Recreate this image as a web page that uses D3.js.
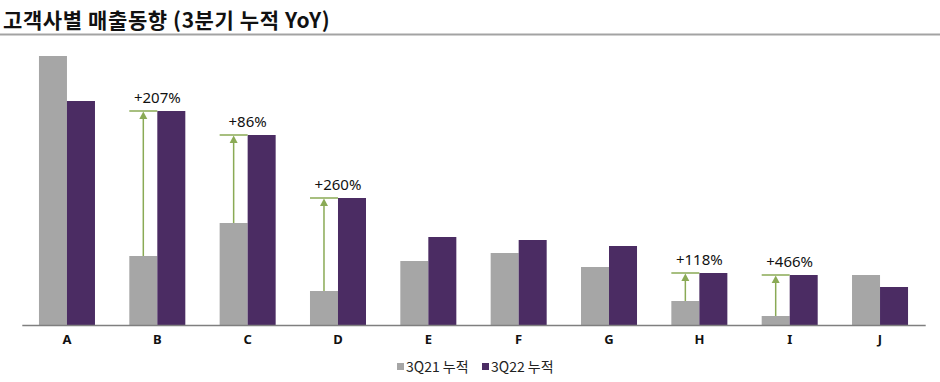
<!DOCTYPE html>
<html><head><meta charset="utf-8">
<script src="https://cdn.jsdelivr.net/npm/d3@7"></script>
<style>
html,body{margin:0;padding:0;background:#fff;}
svg{display:block;font-family:"Noto Sans CJK KR","Noto Sans",sans-serif;}
</style></head>
<body><svg id="c" width="940" height="382"></svg>
<script>
const categories = ["A","B","C","D","E","F","G","H","I","J"];
const q21 = [269, 69, 102, 34, 64, 72, 58, 24, 9, 50];
const q22 = [224, 214, 190, 127, 88, 85, 79, 52, 50, 38];
const annotations = [
  {cat:"B", label:"+207%"},
  {cat:"C", label:"+86%"},
  {cat:"D", label:"+260%"},
  {cat:"H", label:"+118%"},
  {cat:"I", label:"+466%"}
];
const seriesNames = ["3Q21 누적","3Q22 누적"];
const colors = ["#a6a6a6","#4b2c63"];
const green = "#8aaa55";

const svg = d3.select("#c");
const x = d3.scaleBand().domain(categories).range([21.8, 925.2]).paddingInner(0.38).paddingOuter(0.19);
const x1 = d3.scaleBand().domain([0,1]).range([0, x.bandwidth()]);
const y = d3.scaleLinear().domain([0, 285]).range([325, 40]);

// title
svg.append("text").attr("x",3).attr("y",28).attr("font-size",21).attr("font-weight",700)
  .attr("letter-spacing",0.6).attr("fill","#111").text("고객사별 매출동향 (3분기 누적 YoY)");
svg.append("line").attr("x1",0).attr("x2",940).attr("y1",34.5).attr("y2",34.5)
  .attr("stroke","#a3a3a3").attr("stroke-width",2);

const data = categories.map((c,i)=>({cat:c, vals:[q21[i], q22[i]]}));
const g = svg.append("g");
g.selectAll("g.grp").data(data).join("g").attr("class","grp")
  .attr("transform", d=>`translate(${x(d.cat)},0)`)
  .selectAll("rect").data(d=>d.vals.map((v,k)=>({v,k}))).join("rect")
  .attr("x", d=>x1(d.k)).attr("width", x1.bandwidth())
  .attr("y", d=>y(d.v)).attr("height", d=>y(0)-y(d.v))
  .attr("fill", d=>colors[d.k]);

// axis
const xAxis = d3.axisBottom(x).tickSize(0).tickPadding(10);
const ax = svg.append("g").attr("transform",`translate(0,${y(0)})`).call(xAxis);
ax.select(".domain").attr("stroke","#7f7f7f").attr("stroke-width",1.5);
ax.selectAll("text").attr("font-size",13).attr("font-weight",700).attr("fill","#111")
  .attr("font-family","'Noto Sans',sans-serif");

// annotations
annotations.forEach(a=>{
  const i = categories.indexOf(a.cat);
  const x0 = x(a.cat), xg = x0 + x1(0) + x1.bandwidth()/2, xp = x0 + x1(1);
  const yt = y(q22[i]), yb = y(q21[i]);
  svg.append("line").attr("x1",x0).attr("x2",xp).attr("y1",yt).attr("y2",yt)
    .attr("stroke",green).attr("stroke-width",1.5);
  svg.append("line").attr("x1",xg).attr("x2",xg).attr("y1",yb).attr("y2",yt+6)
    .attr("stroke",green).attr("stroke-width",1.5);
  svg.append("path").attr("d",`M${xg},${yt+0.5} L${xg-4},${yt+8} L${xg+4},${yt+8} Z`).attr("fill",green);
  svg.append("text").attr("x", x0 + x.bandwidth()/2).attr("y", yt-8)
    .attr("text-anchor","middle").attr("font-size",15).attr("fill","#111")
    .attr("font-family","'Noto Sans',sans-serif").text(a.label);
});

// legend
const lg = svg.append("g").attr("transform","translate(0,367)");
const legX = [397, 482];
seriesNames.forEach((n,k)=>{
  lg.append("rect").attr("x",legX[k]).attr("y",-4).attr("width",7).attr("height",7).attr("fill",colors[k]);
  lg.append("text").attr("x",legX[k]+9).attr("y",5)
    .attr("font-size",14).attr("fill","#222").text(n);
});
</script></body></html>
